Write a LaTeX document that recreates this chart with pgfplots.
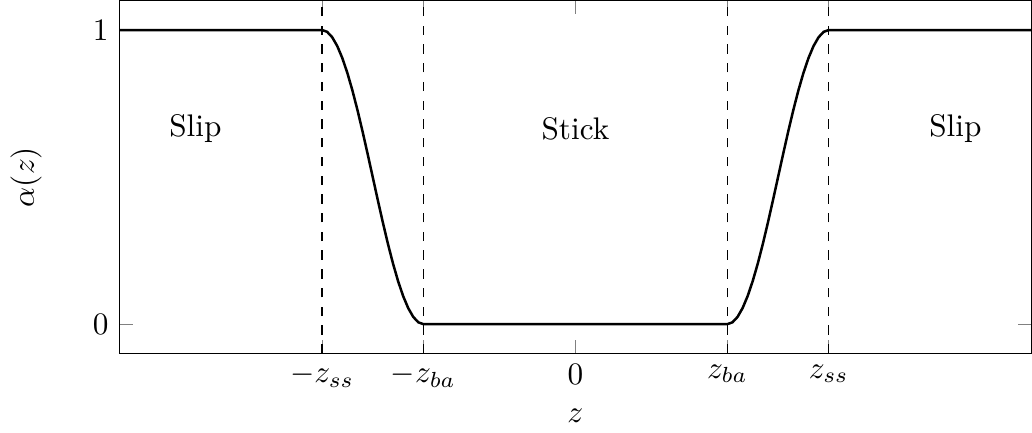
\documentclass[border=0pt]{standalone}
\usepackage{pgfplots}
\pgfplotsset{compat=1.18}
\begin{document}
\begin{tikzpicture}
\begin{axis}[
  scale only axis,
  width=292pt, height=113pt,
  xmin=-1.8, xmax=1.8, ymin=-0.1, ymax=1.1,
  xtick={-1,-0.6,0,0.6,1},
  xticklabels={$-z_{ss}$,$-z_{ba}$,$0$,$z_{ba}$,$z_{ss}$},
  ytick={0,1},
  xlabel={$z$}, ylabel={$\alpha(z)$},
  ylabel shift=9.5pt,
]
\addplot[thick, black] coordinates {
(-1.8,1) (-1,1) (-0.98,0.99384) (-0.96,0.9755) (-0.94,0.94550) (-0.92,0.9045)
(-0.90,0.85355) (-0.88,0.7939) (-0.86,0.72700) (-0.84,0.6545) (-0.82,0.57822)
(-0.80,0.5) (-0.78,0.42178) (-0.76,0.3455) (-0.74,0.27300) (-0.72,0.2061)
(-0.70,0.14645) (-0.68,0.0955) (-0.66,0.05450) (-0.64,0.0245) (-0.62,0.00616) (-0.6,0)
(0.6,0) (0.62,0.00616) (0.64,0.0245) (0.66,0.05450) (0.68,0.0955) (0.70,0.14645)
(0.72,0.2061) (0.74,0.27300) (0.76,0.3455) (0.78,0.42178) (0.80,0.5)
(0.82,0.57822) (0.84,0.6545) (0.86,0.72700) (0.88,0.7939) (0.90,0.85355)
(0.92,0.9045) (0.94,0.94550) (0.96,0.9755) (0.98,0.99384) (1,1) (1.8,1)
};
\addplot[dashed, black, thin] coordinates {(-1,-0.1) (-1,1.1)};
\addplot[dashed, black, thin] coordinates {(-0.6,-0.1) (-0.6,1.1)};
\addplot[dashed, black, thin] coordinates {(0.6,-0.1) (0.6,1.1)};
\addplot[dashed, black, thin] coordinates {(1,-0.1) (1,1.1)};
\node at (axis cs:-1.5,0.665) {Slip};
\node at (axis cs:0,0.665) {Stick};
\node at (axis cs:1.5,0.665) {Slip};
\end{axis}
\end{tikzpicture}
\end{document}
